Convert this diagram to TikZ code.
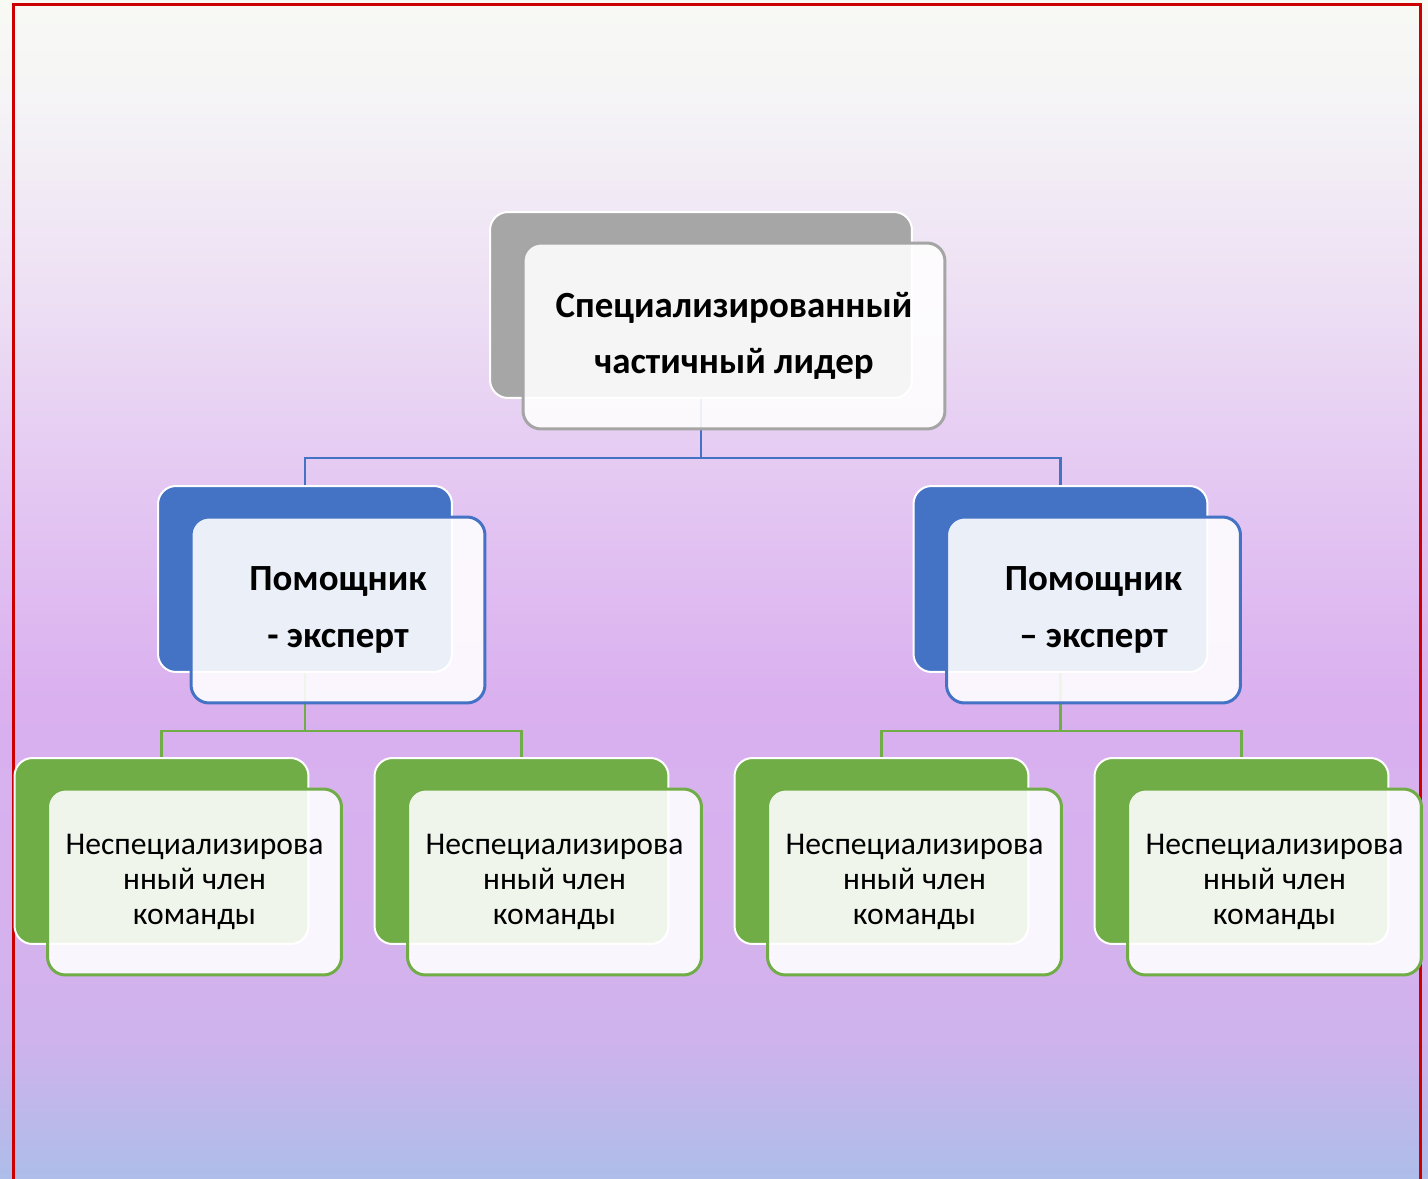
\documentclass[tikz,border=0pt]{standalone}
\usepackage{fontspec}
\setmainfont{Carlito}
\usepackage{tikz}
\usepackage{xcolor}

\definecolor{bgA}{HTML}{F8FAF4}
\definecolor{bgB}{HTML}{F5F4F6}
\definecolor{bgC}{HTML}{EDDFF4}
\definecolor{bgD}{HTML}{E3C6F2}
\definecolor{bgE}{HTML}{DAB0EF}
\definecolor{bgF}{HTML}{D4B2EE}
\definecolor{bgG}{HTML}{CDB3EC}
\definecolor{bgH}{HTML}{ADBDE9}
\definecolor{greyback}{HTML}{A6A6A6}
\definecolor{greyline}{HTML}{A5A5A5}
\definecolor{blueback}{HTML}{4472C4}
\definecolor{greenback}{HTML}{70AD47}
\definecolor{frame}{HTML}{CC0000}

\pgfdeclareverticalshading{bgfade}{100bp}{color(0bp)=(bgH); color(25bp)=(bgH); color(30.5bp)=(bgG); color(34bp)=(bgF); color(45.3bp)=(bgE); color(53.8bp)=(bgD); color(62.3bp)=(bgC); color(70.8bp)=(bgB); color(75bp)=(bgA); color(100bp)=(bgA)}

\tikzset{
  backbox/.style={draw=white, line width=0.04cm, rounded corners=0.36cm, minimum width=5.88cm, minimum height=3.72cm},
  frontbox/.style={fill=white, fill opacity=0.89, text opacity=1, line width=0.06cm, rounded corners=0.36cm, minimum width=5.88cm, minimum height=3.72cm, align=center},
  bigfont/.style={font=\fontsize{21}{32}\selectfont\bfseries},
  smallfont/.style={font=\fontsize{18}{19.8}\selectfont},
  blueline/.style={blueback, line width=0.05cm},
  greenline/.style={greenback, line width=0.05cm}
}

\begin{document}
\begin{tikzpicture}[x=0.02cm,y=-0.02cm]
            \useasboundingbox (0,0) rectangle (1428,1179);
            \shade[shading=bgfade] (0,0) rectangle (1428,1179);
            \draw[frame, line width=0.06cm] (13.5,1185) -- (13.5,4.5) -- (1420.5,4.5) -- (1420.5,1185);

            \node[backbox, fill=greyback, minimum width=8.44cm] (leaderB) at (701,305) {};
            \node[backbox, fill=blueback] (helpLB) at (305,579) {};
            \node[backbox, fill=blueback] (helpRB) at (1060.5,579) {};
            \node[backbox, fill=greenback] (memAB) at (161.5,851) {};
            \node[backbox, fill=greenback] (memBB) at (521.5,851) {};
            \node[backbox, fill=greenback] (memCB) at (881.5,851) {};
            \node[backbox, fill=greenback] (memDB) at (1241.5,851) {};

            \draw[blueline] (leaderB.south) -- ++(0,59) -| (helpLB.north);
            \draw[blueline] (leaderB.south) ++(0,59) -| (helpRB.north);
            \draw[greenline] (helpLB.south) -- ++(0,58) -| (memAB.north);
            \draw[greenline] (helpLB.south) ++(0,58) -| (memBB.north);
            \draw[greenline] (helpRB.south) -- ++(0,58) -| (memCB.north);
            \draw[greenline] (helpRB.south) ++(0,58) -| (memDB.north);

            \node[frontbox, draw=greyline, minimum width=8.44cm, bigfont] (leaderF) at ([shift={(33,31)}]leaderB) {Специализированный\\частичный лидер};
            \node[frontbox, draw=blueback, bigfont] (helpLF) at ([shift={(33,31)}]helpLB) {Помощник\\- эксперт};
            \node[frontbox, draw=blueback, bigfont] (helpRF) at ([shift={(33,31)}]helpRB) {Помощник\\– эксперт};
            \node[frontbox, draw=greenback, smallfont] (memAF) at ([shift={(33,31)}]memAB) {Неспециализирова\\нный член\\команды};
            \node[frontbox, draw=greenback, smallfont] (memBF) at ([shift={(33,31)}]memBB) {Неспециализирова\\нный член\\команды};
            \node[frontbox, draw=greenback, smallfont] (memCF) at ([shift={(33,31)}]memCB) {Неспециализирова\\нный член\\команды};
            \node[frontbox, draw=greenback, smallfont] (memDF) at ([shift={(33,31)}]memDB) {Неспециализирова\\нный член\\команды};
\end{tikzpicture}
\end{document}
